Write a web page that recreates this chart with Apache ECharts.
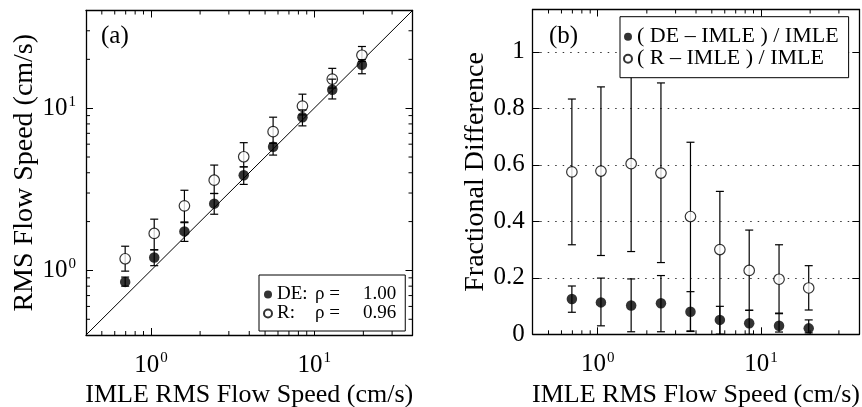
<!DOCTYPE html>
<html><head><meta charset="utf-8">
<script src="https://cdn.jsdelivr.net/npm/echarts@6/dist/echarts.min.js"></script>
<style>html,body{margin:0;padding:0;background:#fff}#c{width:862px;height:407px}</style>
</head><body><div id="c"></div>
<script>
// ---- data ----
const imleSpeed = [0.695, 1.047, 1.603, 2.44, 3.70, 5.60, 8.47, 12.9, 19.6];
// panel (a): RMS flow speed (cm/s)
const deSpeed   = [0.85, 1.20, 1.74, 2.58, 3.86, 5.79, 8.79, 12.98, 18.5];
const deSpeedLo = [0.80, 1.07, 1.51, 2.22, 3.39, 5.14, 7.78, 11.4, 16.3];
const deSpeedHi = [0.91, 1.34, 1.97, 2.98, 4.35, 6.08, 9.76, 15.1, 19.9];
const rSpeed    = [1.18, 1.69, 2.50, 3.60, 5.02, 7.17, 10.3, 15.1, 21.2];
const rSpeedLo  = [0.99, 1.34, 1.99, 2.98, 4.35, 6.08, 9.09, 13.3, 19.4];
const rSpeedHi  = [1.41, 2.07, 3.12, 4.46, 6.13, 8.80, 12.2, 17.6, 24.0];
const identityLine = [[0.4, 0.4], [40, 40]];
// panel (b): fractional difference
const deFrac   = [0.125, 0.113, 0.102, 0.110, 0.080, 0.051, 0.039, 0.030, 0.021];
const deFracLo = [0.078, 0.030, 0.009, 0.009, 0.012, 0.0, 0.0, 0.008, 0.005];
const deFracHi = [0.171, 0.199, 0.196, 0.208, 0.151, 0.099, 0.085, 0.073, 0.051];
const rFrac    = [0.575, 0.578, 0.604, 0.571, 0.417, 0.300, 0.226, 0.195, 0.164];
const rFracLo  = [0.317, 0.279, 0.293, 0.254, 0.010, 0.0, 0.085, 0.075, 0.086];
const rFracHi  = [0.833, 0.876, 0.916, 0.890, 0.680, 0.506, 0.369, 0.317, 0.243];
// axes
const logMin = 0.4, logMax = 40;
const decadeExps = [0, 1];                       // tick labels 10^0, 10^1
const minorLogTicks = [0.5,0.6,0.7,0.8,0.9,2,3,4,5,6,7,8,9,20,30];
const fracMin = 0, fracMax = 1.15, fracStep = 0.2;
const legendA = {'DE (a)': ['DE:', 'ρ =', '1.00'], 'R (a)': ['R:', 'ρ =', '0.96']};
const legendB = {'DE (b)': '( DE – IMLE ) / IMLE', 'R (b)': '( R – IMLE ) / IMLE'};

// ---- chart ----
const FONT = "'Liberation Serif', 'Times New Roman', serif";
const chart = echarts.init(document.getElementById('c'), null, {renderer: 'canvas'});

function logLabel(v) {
  const e = Math.log10(v), r = Math.round(e);
  if (Math.abs(e - r) > 1e-6 || decadeExps.indexOf(r) < 0) return '';
  return '{b|10}{s|' + r + '}';
}
const richLog = {
  b: {fontFamily: FONT, fontSize: 25, color: '#000', lineHeight: 28},
  s: {fontFamily: FONT, fontSize: 15, color: '#000', lineHeight: 15, verticalAlign: 'top', padding: [0, 0, 0, 1]}
};
const axLine = {show: true, onZero: false, lineStyle: {color: '#000', width: 1.3}};
const majTick = {show: true, inside: true, length: 7, lineStyle: {color: '#000', width: 1}};

function logAxis(grid, pos, withLabel, name, nameGap, margin) {
  return {
    type: 'log', logBase: 10, gridIndex: grid, position: pos, min: logMin, max: logMax,
    axisLine: axLine, axisTick: majTick, splitLine: {show: false}, minorTick: {show: false},
    axisLabel: withLabel ? {show: true, formatter: logLabel, rich: richLog, margin: margin || 10,
      showMinLabel: false, showMaxLabel: false} : {show: false},
    name: name || '', nameLocation: 'middle', nameGap: nameGap || 0,
    nameTextStyle: {fontFamily: FONT, fontSize: 26, color: '#000'}
  };
}
function fracAxis(pos, withLabel, name, nameGap) {
  return {
    type: 'value', gridIndex: 1, position: pos, min: fracMin, max: fracMax, interval: fracStep,
    axisLine: axLine, axisTick: majTick,
    splitLine: {show: withLabel, lineStyle: {color: '#333', width: 1, type: [1.5, 6]}},
    axisLabel: withLabel ? {show: true, showMaxLabel: false, margin: 8,
      fontFamily: FONT, fontSize: 25, color: '#000',
      formatter: v => (Math.abs(v / fracStep - Math.round(v / fracStep)) < 1e-6 ? String(+v.toFixed(1)) : '')} : {show: false},
    name: name || '', nameLocation: 'middle', nameGap: nameGap || 0,
    nameTextStyle: {fontFamily: FONT, fontSize: 28, color: '#000'}
  };
}

function errBar(xIdx, yIdx, lo, hi, z) {
  return {
    type: 'custom', xAxisIndex: xIdx, yAxisIndex: yIdx, z: z, silent: true,
    data: imleSpeed.map((x, i) => [x, lo[i], hi[i]]),
    encode: {x: 0, y: [1, 2]},
    renderItem: (params, api) => {
      const x = api.value(0);
      const p1 = api.coord([x, api.value(2)]), p2 = api.coord([x, api.value(1)]);
      const w = 4, st = {stroke: '#000', lineWidth: 1.2};
      return {type: 'group', children: [
        {type: 'line', shape: {x1: p1[0], y1: p1[1], x2: p2[0], y2: p2[1]}, style: st},
        {type: 'line', shape: {x1: p1[0] - w, y1: p1[1], x2: p1[0] + w, y2: p1[1]}, style: st},
        {type: 'line', shape: {x1: p2[0] - w, y1: p2[1], x2: p2[0] + w, y2: p2[1]}, style: st}
      ]};
    }
  };
}
function minorTicksX(xIdx, yIdx, yRef) {
  return {
    type: 'custom', xAxisIndex: xIdx, yAxisIndex: yIdx, silent: true, z: 6,
    data: minorLogTicks.map(v => [v, yRef]),
    renderItem: (params, api) => {
      const cs = params.coordSys;
      const px = api.coord([api.value(0), yRef])[0];
      const b = cs.y + cs.height, t = cs.y, st = {stroke: '#000', lineWidth: 1};
      return {type: 'group', children: [
        {type: 'line', shape: {x1: px, y1: b, x2: px, y2: b - 4}, style: st},
        {type: 'line', shape: {x1: px, y1: t, x2: px, y2: t + 4}, style: st}
      ]};
    }
  };
}
function minorTicksY(xIdx, yIdx, xRef) {
  return {
    type: 'custom', xAxisIndex: xIdx, yAxisIndex: yIdx, silent: true, z: 6,
    data: minorLogTicks.map(v => [xRef, v]),
    renderItem: (params, api) => {
      const cs = params.coordSys;
      const py = api.coord([xRef, api.value(1)])[1];
      const l = cs.x, r = cs.x + cs.width, st = {stroke: '#000', lineWidth: 1};
      return {type: 'group', children: [
        {type: 'line', shape: {x1: l, y1: py, x2: l + 4, y2: py}, style: st},
        {type: 'line', shape: {x1: r, y1: py, x2: r - 4, y2: py}, style: st}
      ]};
    }
  };
}
const deStyle = {symbol: 'circle', symbolSize: 10.5, itemStyle: {color: '#000'}};
const rStyle = {symbol: 'circle', symbolSize: 10.5, itemStyle: {color: '#fff', borderColor: '#000', borderWidth: 1.2}};

const option = {
  animation: false,
  backgroundColor: '#fff',
  grid: [
    {left: 86, top: 10.5, right: 449.5, bottom: 72, containLabel: false, outerBoundsMode: 'none'},
    {left: 532.7, top: 9.5, right: 2.7, bottom: 72.7, containLabel: false, outerBoundsMode: 'none'}
  ],
  title: [
    {text: '(a)', left: 101, top: 24, padding: 0, textStyle: {fontFamily: FONT, fontSize: 25, fontWeight: 'normal', color: '#000'}},
    {text: '(b)', left: 549, top: 24, padding: 0, textStyle: {fontFamily: FONT, fontSize: 25, fontWeight: 'normal', color: '#000'}}
  ],
  xAxis: [
    logAxis(0, 'bottom', true, 'IMLE RMS Flow Speed (cm/s)', 47, 16),
    logAxis(0, 'top', false),
    logAxis(1, 'bottom', true, 'IMLE RMS Flow Speed (cm/s)', 47, 16),
    logAxis(1, 'top', false)
  ],
  yAxis: [
    Object.assign(logAxis(0, 'left', true, 'RMS Flow Speed (cm/s)', 45, 10),
      {nameRotate: 90, nameTextStyle: {fontFamily: FONT, fontSize: 28, color: '#000'}}),
    logAxis(0, 'right', false),
    fracAxis('left', true, 'Fractional Difference', 37),
    fracAxis('right', false)
  ],
  legend: [
    {
      left: 259, top: 275, orient: 'vertical', data: ['DE (a)', 'R (a)'],
      itemWidth: 8, itemHeight: 8, itemGap: 0, padding: [10, 9, 8, 4],
      borderColor: '#000', borderWidth: 1, backgroundColor: '#fff',
      selectedMode: false,
      formatter: n => '{k|' + legendA[n][0] + '}{p|' + legendA[n][1] + '}{v|' + legendA[n][2] + '}',
      textStyle: {fontFamily: FONT, fontSize: 19, color: '#000', lineHeight: 15,
        rich: {k: {fontFamily: FONT, fontSize: 19, lineHeight: 15, width: 38},
               p: {fontFamily: FONT, fontSize: 19, lineHeight: 15, width: 48},
               v: {fontFamily: FONT, fontSize: 19, lineHeight: 15}}}
    },
    {
      left: 620, top: 16.7, orient: 'vertical', data: ['DE (b)', 'R (b)'],
      itemWidth: 8, itemHeight: 8, itemGap: 0, padding: [9, 10, 8, 3],
      borderColor: '#000', borderWidth: 1, backgroundColor: '#fff',
      selectedMode: false,
      formatter: n => legendB[n],
      textStyle: {fontFamily: FONT, fontSize: 22, color: '#000', lineHeight: 17}
    }
  ],
  series: [
    {type: 'line', xAxisIndex: 0, yAxisIndex: 0, data: identityLine, showSymbol: false, silent: true,
     lineStyle: {color: '#000', width: 1}, z: 1},
    minorTicksX(0, 0, 1), minorTicksY(0, 0, 1), minorTicksX(2, 2, 0.5),
    errBar(0, 0, rSpeedLo, rSpeedHi, 2),
    Object.assign({type: 'scatter', name: 'R (a)', xAxisIndex: 0, yAxisIndex: 0, z: 3,
      data: imleSpeed.map((x, i) => [x, rSpeed[i]])}, rStyle),
    errBar(0, 0, deSpeedLo, deSpeedHi, 4),
    Object.assign({type: 'scatter', name: 'DE (a)', xAxisIndex: 0, yAxisIndex: 0, z: 5,
      data: imleSpeed.map((x, i) => [x, deSpeed[i]])}, deStyle),
    errBar(2, 2, rFracLo, rFracHi, 2),
    Object.assign({type: 'scatter', name: 'R (b)', xAxisIndex: 2, yAxisIndex: 2, z: 3,
      data: imleSpeed.map((x, i) => [x, rFrac[i]])}, rStyle),
    errBar(2, 2, deFracLo, deFracHi, 4),
    Object.assign({type: 'scatter', name: 'DE (b)', xAxisIndex: 2, yAxisIndex: 2, z: 5,
      data: imleSpeed.map((x, i) => [x, deFrac[i]])}, deStyle)
  ]
};
chart.setOption(option);
</script></body></html>
